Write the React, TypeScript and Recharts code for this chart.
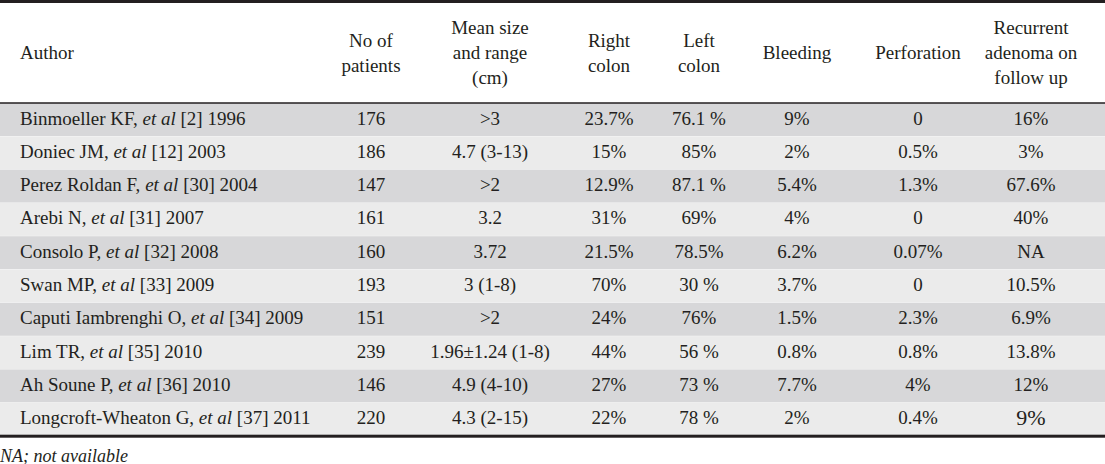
import React from "react";
import { ComposedChart, Bar, XAxis, YAxis } from "recharts";

// ---- data ----
const authors = [
  "Binmoeller KF",
  "Doniec JM",
  "Perez Roldan F",
  "Arebi N",
  "Consolo P",
  "Swan MP",
  "Caputi Iambrenghi O",
  "Lim TR",
  "Ah Soune P",
  "Longcroft-Wheaton G",
];
const refs = [2, 12, 30, 31, 32, 33, 34, 35, 36, 37];
const years = [1996, 2003, 2004, 2007, 2008, 2009, 2009, 2010, 2010, 2011];
const patients = [176, 186, 147, 161, 160, 193, 151, 239, 146, 220];
const meanSize = [">3", "4.7 (3-13)", ">2", "3.2", "3.72", "3 (1-8)", ">2", "1.96±1.24 (1-8)", "4.9 (4-10)", "4.3 (2-15)"];
const rightColon = ["23.7%", "15%", "12.9%", "31%", "21.5%", "70%", "24%", "44%", "27%", "22%"];
const leftColon = ["76.1 %", "85%", "87.1 %", "69%", "78.5%", "30 %", "76%", "56 %", "73 %", "78 %"];
const bleeding = ["9%", "2%", "5.4%", "4%", "6.2%", "3.7%", "1.5%", "0.8%", "7.7%", "2%"];
const perforation = ["0", "0.5%", "1.3%", "0", "0.07%", "0", "2.3%", "0.8%", "4%", "0.4%"];
const recurrent = ["16%", "3%", "67.6%", "40%", "NA", "10.5%", "6.9%", "13.8%", "12%", "9%"];
const headers = [
  ["Author"],
  ["No of", "patients"],
  ["Mean size", "and range", "(cm)"],
  ["Right", "colon"],
  ["Left", "colon"],
  ["Bleeding"],
  ["Perforation"],
  ["Recurrent", "adenoma on", "follow up"],
];
const footnote = "NA; not available";

// ---- layout (not data) ----
const W = 1105;
const H = 464;
const HEADER_H = 103;
const columnX = [20, 371, 490, 609, 699, 797, 918, 1031];
const FONT = "'Liberation Serif', 'Times New Roman', serif";
const FS = 19;
const INK = "#231f20";
const DARK = "#d7d7d9";
const LIGHT = "#ebebeb";

const rows = authors.map((a, i) => ({
  author: a,
  ref: refs[i],
  year: years[i],
  patients: patients[i],
  meanSize: meanSize[i],
  right: rightColon[i],
  left: leftColon[i],
  bleeding: bleeding[i],
  perforation: perforation[i],
  recurrent: recurrent[i],
  span: W,
}));

const HeaderTick = (props: any) => {
  const { x, payload } = props;
  const idx = columnX.indexOf(payload?.value);
  const lines = headers[idx] || [];
  const n = lines.length;
  const cy = HEADER_H / 2 + 1.5;
  return (
    <g>
      {idx === 0 && <rect x={0} y={0} width={W} height={3} fill={INK} />}
      <text
        x={x}
        textAnchor={idx === 0 ? "start" : "middle"}
        fontFamily={FONT}
        fontSize={FS}
        fill={INK}
      >
        {lines.map((l, i) => (
          <tspan key={i} x={x} y={cy + (i - (n - 1) / 2) * 25 + 6}>
            {l}
          </tspan>
        ))}
      </text>
    </g>
  );
};

const RowShape = (props: any) => {
  const { x, y, width, height, payload, index } = props;
  const ty = y + height / 2 + 5;
  const vals = [
    payload.patients,
    payload.meanSize,
    payload.right,
    payload.left,
    payload.bleeding,
    payload.perforation,
    payload.recurrent,
  ];
  const last = index === rows.length - 1;
  return (
    <g>
      <rect x={x} y={y} width={width} height={height} fill={index % 2 === 0 ? DARK : LIGHT} />
      <text x={columnX[0]} y={ty} fontFamily={FONT} fontSize={FS} fill={INK}>
        {payload.author + ", "}
        <tspan fontStyle="italic">et al</tspan>
        {" [" + payload.ref + "] " + payload.year}
      </text>
      {vals.map((v, i) => (
        <text
          key={i}
          x={columnX[i + 1]}
          y={ty + (last && i === 6 ? 1 : 0)}
          textAnchor="middle"
          fontFamily={FONT}
          fontSize={last && i === 6 ? FS + 3 : FS}
          fill={INK}
        >
          {v}
        </text>
      ))}
      {last && <rect x={x} y={y + height - 1} width={width} height={3} fill={INK} />}
    </g>
  );
};

export default function App() {
  return (
    <div style={{ position: "absolute", left: 0, top: 0, width: W, height: H, background: "#fff" }}>
      <ComposedChart
        width={W}
        height={H}
        data={rows}
        layout="vertical"
        margin={{ top: 0, right: 0, bottom: 28, left: 0 }}
        barCategoryGap={0}
      >
        <XAxis xAxisId="v" type="number" domain={[0, W]} hide />
        <XAxis
          xAxisId="head"
          type="number"
          orientation="top"
          domain={[0, W]}
          ticks={columnX}
          tick={HeaderTick}
          tickLine={false}
          axisLine={{ stroke: INK, strokeWidth: 1.5 }}
          height={HEADER_H}
          interval={0}
          allowDataOverflow
        />
        <YAxis type="category" dataKey="author" hide />
        <Bar xAxisId="v" dataKey="span" shape={<RowShape />} isAnimationActive={false} />
      </ComposedChart>
      <div
        style={{
          position: "absolute",
          left: 0,
          top: 447,
          fontFamily: FONT,
          fontSize: 18,
          fontStyle: "italic",
          color: INK,
          lineHeight: "18px",
          whiteSpace: "nowrap",
        }}
      >
        {footnote}
      </div>
    </div>
  );
}
